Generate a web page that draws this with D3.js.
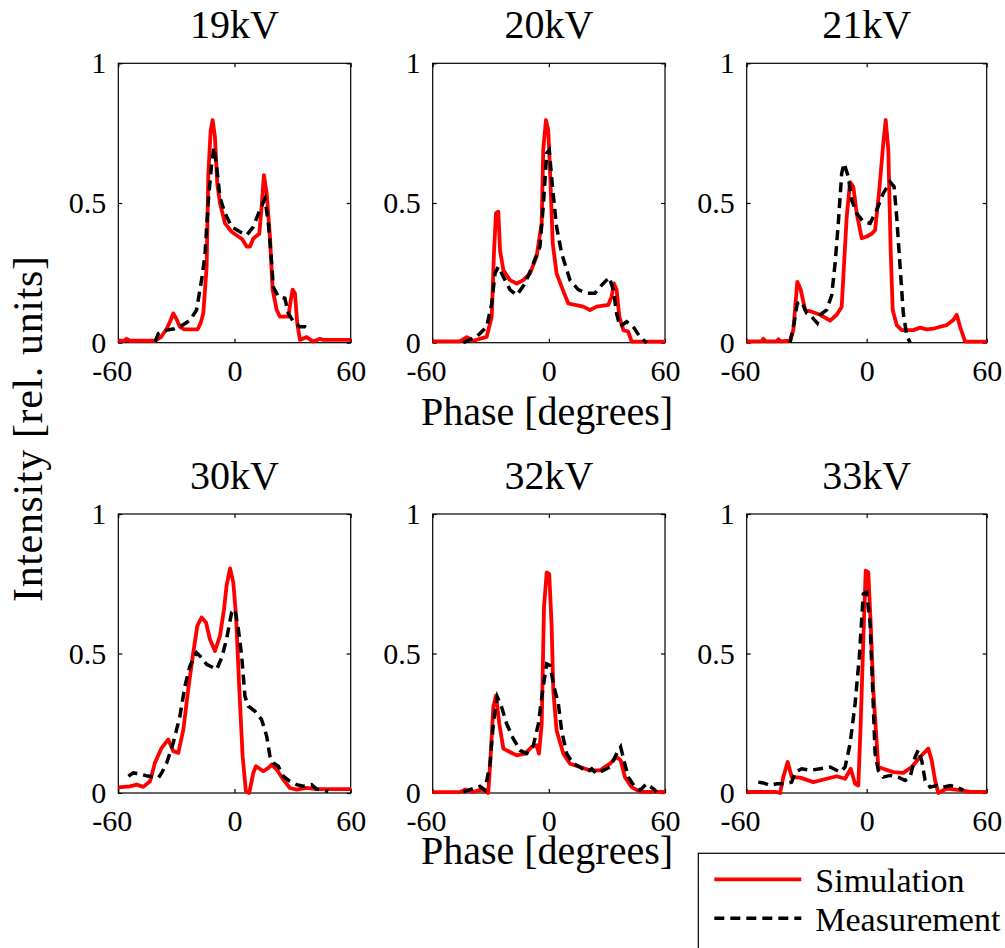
<!DOCTYPE html>
<html>
<head>
<meta charset="utf-8">
<script src="https://cdn.jsdelivr.net/npm/d3@7"></script>
<style>
  body { margin: 0; background: #fff; }
  svg text { font-family: "Liberation Serif", "Times New Roman", "DejaVu Serif", serif; fill: #000; }
</style>
</head>
<body>
<script>
// titles and ticks
const titles = ["19kV", "20kV", "21kV", "30kV", "32kV", "33kV"];
const xTicks = [-60, 0, 60];
const yTicks = [0, 0.5, 1];

// simulation (red) and measurement (black dashed), [phase, intensity]
const sim19 = [[-60,0.007],[-57,0.007],[-55.7,0.014],[-54,0.007],[-41,0.007],[-38,0.02],[-35,0.05],[-33,0.08],[-31.6,0.105],[-30,0.085],[-28.2,0.057],[-26,0.048],[-19,0.048],[-17.5,0.07],[-16.1,0.105],[-14.4,0.27],[-13.5,0.606],[-12.3,0.76],[-11.3,0.797],[-10.1,0.737],[-8.9,0.57],[-7.5,0.5],[-4.9,0.427],[-1.5,0.397],[2,0.38],[4,0.37],[6.3,0.344],[8,0.344],[9.7,0.373],[12.8,0.39],[14,0.487],[15.2,0.6],[16.6,0.535],[18.3,0.38],[19.7,0.19],[21.8,0.117],[23.5,0.093],[27.8,0.093],[29,0.15],[30,0.19],[31.2,0.177],[32.4,0.07],[33.8,0.01],[37.2,0.02],[40.7,0.004],[44.1,0.014],[45.8,0.01],[60,0.01]];
const meas19 = [[-41,0.004],[-39.3,0.033],[-35,0.045],[-31,0.05],[-28.2,0.057],[-23,0.08],[-19.6,0.117],[-17,0.224],[-15.3,0.31],[-13.5,0.51],[-11.8,0.64],[-10.6,0.70],[-9.2,0.63],[-7.5,0.52],[-4.9,0.463],[-1.5,0.415],[2.8,0.397],[6.3,0.385],[9.7,0.415],[13.1,0.475],[15.7,0.515],[17.5,0.427],[19.2,0.284],[20,0.2],[22.6,0.165],[26,0.159],[27.8,0.105],[30.4,0.075],[33.8,0.057],[36.4,0.057],[39,0.045]];

const sim20 = [[-60,0.005],[-46,0.005],[-42.4,0.02],[-39,0.007],[-32.1,0.021],[-29.5,0.093],[-28.3,0.33],[-27.3,0.463],[-26.1,0.469],[-25.2,0.33],[-23.5,0.26],[-20.1,0.224],[-16.6,0.212],[-13.2,0.224],[-9.7,0.248],[-6.3,0.31],[-3.7,0.427],[-2.9,0.69],[-1.5,0.797],[-0.3,0.761],[0.6,0.618],[2,0.356],[4,0.248],[6.6,0.2],[10,0.141],[13.5,0.135],[17.8,0.129],[21.2,0.117],[24.7,0.129],[30.7,0.135],[32.4,0.165],[33.6,0.212],[35,0.19],[36.4,0.093],[38.5,0.045],[41,0.04],[42.8,0.004],[60,0.004]];
const meas20 = [[-44.2,0],[-37.3,0.021],[-32.1,0.057],[-29.5,0.141],[-27.8,0.248],[-26.1,0.272],[-23.5,0.236],[-20.1,0.19],[-16.6,0.17],[-12.3,0.212],[-8,0.284],[-4.6,0.344],[-2.9,0.487],[-1.1,0.678],[0.2,0.69],[2,0.547],[4,0.415],[6.6,0.32],[10.9,0.224],[15.2,0.19],[19.5,0.177],[23.8,0.177],[27.3,0.206],[31.2,0.234],[33.3,0.19],[35,0.105],[36.7,0.057],[40.2,0.075],[43.6,0.057],[47,0.021],[50.5,0]];

const sim21 = [[-60,0.005],[-52.5,0.005],[-51.7,0.014],[-50.5,0.005],[-45,0.005],[-44.2,0.012],[-43,0.005],[-38.3,0.007],[-36.7,0.045],[-34.7,0.218],[-33,0.19],[-30.8,0.117],[-27.5,0.111],[-23.3,0.1],[-18.3,0.079],[-15,0.1],[-12.5,0.129],[-11.3,0.284],[-10,0.45],[-8.3,0.575],[-6.7,0.558],[-5,0.463],[-2.5,0.374],[0,0.38],[2.5,0.39],[4.2,0.403],[6.3,0.547],[8.3,0.714],[9.5,0.797],[10.8,0.69],[12,0.33],[13,0.117],[15,0.063],[17.5,0.045],[23.3,0.045],[26.7,0.054],[30,0.048],[33.3,0.05],[36.7,0.057],[40,0.063],[43.3,0.081],[45,0.1],[46.7,0.057],[49.2,0.004],[60,0.004]];
const meas21 = [[-38.3,0],[-36.3,0.07],[-34.7,0.141],[-32.5,0.147],[-30,0.105],[-27.5,0.093],[-24.7,0.07],[-23.3,0.1],[-20,0.117],[-17.5,0.17],[-15.8,0.284],[-14.2,0.427],[-12.5,0.606],[-11.3,0.642],[-9.2,0.594],[-7.5,0.51],[-5,0.463],[-1.7,0.433],[1.7,0.427],[5,0.475],[8.3,0.535],[11.7,0.576],[13.7,0.558],[15,0.45],[16.7,0.272],[18.3,0.105],[20,0.027],[21.7,0]];

const sim30 = [[-60,0.02],[-54,0.024],[-50.5,0.03],[-47.1,0.022],[-43.6,0.042],[-41.1,0.108],[-37.6,0.162],[-34.2,0.192],[-31.6,0.15],[-29,0.144],[-26.4,0.228],[-23.9,0.371],[-21.3,0.503],[-19.2,0.599],[-17,0.629],[-14.7,0.611],[-12.7,0.551],[-10.1,0.509],[-7.5,0.563],[-5.4,0.659],[-4.1,0.743],[-2.3,0.805],[-0.6,0.754],[0.8,0.635],[2.5,0.371],[4.2,0.132],[5.9,0.006],[7.6,0],[9.7,0.072],[11.1,0.096],[14.9,0.078],[17.5,0.09],[19.2,0.102],[21.8,0.084],[25.2,0.048],[28.6,0.018],[32.1,0.012],[37.2,0.018],[42.4,0.014],[60,0.014]];
const meas30 = [[-54.8,0.06],[-52.3,0.072],[-48.8,0.068],[-45.4,0.062],[-39.3,0.054],[-37.6,0.072],[-35,0.108],[-31.6,0.18],[-28.2,0.275],[-25.6,0.383],[-23,0.455],[-19.6,0.503],[-17,0.485],[-14.4,0.461],[-9.2,0.443],[-6.6,0.485],[-4.1,0.551],[-1.5,0.647],[0.2,0.659],[2,0.587],[3.7,0.491],[5.4,0.347],[7.1,0.311],[10.6,0.293],[14,0.263],[16.6,0.204],[18.3,0.132],[20,0.108],[22.6,0.096],[25.2,0.06],[28.6,0.042],[32.1,0.03],[35.5,0.024],[39.8,0.03],[42.4,0.014],[48.4,0.006]];

const sim32 = [[-60,0.003],[-45.9,0.003],[-43.3,0.012],[-39,0.004],[-34.7,0.012],[-31.3,0],[-30.1,0.129],[-28.7,0.308],[-27.3,0.35],[-25.6,0.248],[-23.5,0.159],[-20.1,0.147],[-16.6,0.135],[-12.3,0.141],[-8.9,0.165],[-6.3,0.171],[-5.1,0.141],[-3.7,0.248],[-2.5,0.666],[-1.1,0.791],[0.2,0.785],[1.4,0.606],[2.3,0.368],[4,0.224],[7.5,0.141],[10.9,0.105],[16.1,0.093],[21.2,0.081],[26.4,0.081],[31.6,0.105],[35,0.129],[37.1,0.117],[39.3,0.057],[42.8,0.021],[47.1,0.004],[60,0.004]];
const meas32 = [[-44.2,0.004],[-39,0.016],[-35.6,0.024],[-33,0.01],[-30.4,0.105],[-28.7,0.248],[-26.6,0.344],[-24.4,0.308],[-21.8,0.248],[-18.4,0.195],[-14.9,0.153],[-11.5,0.141],[-8,0.171],[-5.4,0.248],[-3.2,0.368],[-1.1,0.463],[0.6,0.457],[2.7,0.38],[4.9,0.32],[6.6,0.224],[9.2,0.141],[12.6,0.105],[16.1,0.093],[19.5,0.075],[22.1,0.087],[24.7,0.069],[28.1,0.081],[31.6,0.093],[35,0.141],[37.1,0.165],[38.8,0.117],[41,0.057],[44.5,0.021],[47.1,0.01],[50.5,0.033],[53.9,0.016],[55.7,0.004]];

const sim33 = [[-60,0.004],[-45.8,0.004],[-43.3,0],[-41.7,0.057],[-39.5,0.111],[-37.5,0.057],[-33.3,0.055],[-26.7,0.039],[-20,0.051],[-15,0.06],[-10.8,0.051],[-8,0.087],[-5.8,0.033],[-4.2,0.027],[-3,0.248],[-1.7,0.547],[-0.5,0.797],[0.8,0.791],[2,0.606],[3.3,0.368],[5.8,0.093],[8.3,0.087],[13.3,0.075],[18.3,0.072],[22.5,0.093],[26.7,0.129],[30.8,0.159],[32.5,0.117],[34.2,0.045],[35.8,0],[40,0.016],[46.7,0.01],[51.7,0.004],[60,0.004]];
const meas33 = [[-54.2,0.039],[-51.7,0.036],[-48.3,0.027],[-45,0.033],[-40.8,0.033],[-37.5,0.039],[-35.8,0.075],[-32.5,0.087],[-28.3,0.081],[-23.3,0.087],[-18.3,0.093],[-13.3,0.075],[-10.8,0.093],[-8.3,0.177],[-5.8,0.32],[-3.7,0.487],[-1.7,0.714],[0,0.72],[1.7,0.606],[3,0.368],[4.2,0.141],[5.8,0.081],[8.3,0.057],[11.7,0.063],[15.8,0.057],[19.2,0.045],[21.7,0.057],[24.2,0.129],[25.8,0.155],[27.5,0.117],[29.2,0.045],[31.7,0.021],[35,0.027],[38.3,0.021],[41.7,0.027],[45,0.021],[48.3,0.01]];

const simData = [sim19, sim20, sim21, sim30, sim32, sim33];
const measData = [meas19, meas20, meas21, meas30, meas32, meas33];

// layout
const W = 1005, H = 948;
const colX = [118.3, 432.7, 746.7];
const colW = [232.4, 232.3, 240];
const rowY = [63.3, 514];
const rowH = [279.4, 279];

const svg = d3.select("body").append("svg")
  .attr("width", W)
  .attr("height", H);

const line = d3.line().x(d => d[0]).y(d => d[1]);

titles.forEach((t, i) => {
  const c = i % 3, r = Math.floor(i / 3);
  const x = d3.scaleLinear().domain([-60, 60]).range([0, colW[c]]);
  const y = d3.scaleLinear().domain([0, 1]).range([rowH[r], 0]);

  const g = svg.append("g").attr("transform", `translate(${colX[c]},${rowY[r]})`);

  // frame
  g.append("rect")
    .attr("width", colW[c]).attr("height", rowH[r])
    .attr("fill", "none").attr("stroke", "#000").attr("stroke-width", 1.2);

  // axes, ticks pointing inward
  const bottom = g.append("g").attr("transform", `translate(0,${rowH[r]})`)
    .call(d3.axisBottom(x).tickValues(xTicks).tickSizeInner(-4).tickSizeOuter(0).tickPadding(17)
      .tickFormat(d => String(d)));
  g.append("g")
    .call(d3.axisLeft(y).tickValues(yTicks).tickSizeInner(-4).tickSizeOuter(0).tickPadding(12)
      .tickFormat(d => String(d)));
  g.append("g").call(d3.axisTop(x).tickValues(xTicks).tickSizeInner(-4).tickSizeOuter(0).tickFormat(""));
  g.append("g").attr("transform", `translate(${colW[c]},0)`)
    .call(d3.axisRight(y).tickValues(yTicks).tickSizeInner(-4).tickSizeOuter(0).tickFormat(""));

  g.selectAll(".domain").remove();
  g.selectAll(".tick line").attr("stroke", "#000").attr("stroke-width", 1.2);
  g.selectAll(".tick text").attr("font-size", 30)
    .attr("font-family", "Liberation Serif, Times New Roman, serif");
  bottom.selectAll(".tick text").filter(d => d < 0).attr("dx", "-0.22em");

  // title
  g.append("text")
    .attr("x", colW[c] / 2).attr("y", -25)
    .attr("text-anchor", "middle")
    .attr("font-size", 40)
    .text(t);

  const toPx = arr => arr.map(p => [x(p[0]), y(p[1])]);

  g.append("path")
    .attr("d", line(toPx(simData[i])))
    .attr("fill", "none").attr("stroke", "#ff0000")
    .attr("stroke-width", 3.8).attr("stroke-linejoin", "round");

  g.append("path")
    .attr("d", line(toPx(measData[i])))
    .attr("fill", "none").attr("stroke", "#000")
    .attr("stroke-width", 3.5).attr("stroke-dasharray", "10,6");
});

// axis titles
svg.append("text")
  .attr("x", 547).attr("y", 425)
  .attr("text-anchor", "middle").attr("font-size", 40)
  .text("Phase [degrees]");
svg.append("text")
  .attr("x", 547).attr("y", 864)
  .attr("text-anchor", "middle").attr("font-size", 40)
  .text("Phase [degrees]");
svg.append("text")
  .attr("transform", "translate(42,429) rotate(-90)")
  .attr("text-anchor", "middle").attr("font-size", 42)
  .attr("textLength", 346).attr("lengthAdjust", "spacing")
  .text("Intensity [rel. units]");

// legend
const legend = svg.append("g").attr("transform", "translate(698.3,853.3)");
legend.append("rect")
  .attr("width", 330).attr("height", 120)
  .attr("fill", "#fff").attr("stroke", "#000").attr("stroke-width", 1.2);
const items = [
  { label: "Simulation", color: "#ff0000", dash: null, w: 3.8 },
  { label: "Measurement", color: "#000", dash: "10,6", w: 3.5 }
];
items.forEach((it, k) => {
  const yy = 26 + k * 39;
  legend.append("line")
    .attr("x1", 16).attr("x2", 103).attr("y1", yy).attr("y2", yy)
    .attr("stroke", it.color).attr("stroke-width", it.w)
    .attr("stroke-dasharray", it.dash);
  legend.append("text")
    .attr("x", 117).attr("y", yy + 13)
    .attr("font-size", 34)
    .text(it.label);
});
</script>
</body>
</html>
